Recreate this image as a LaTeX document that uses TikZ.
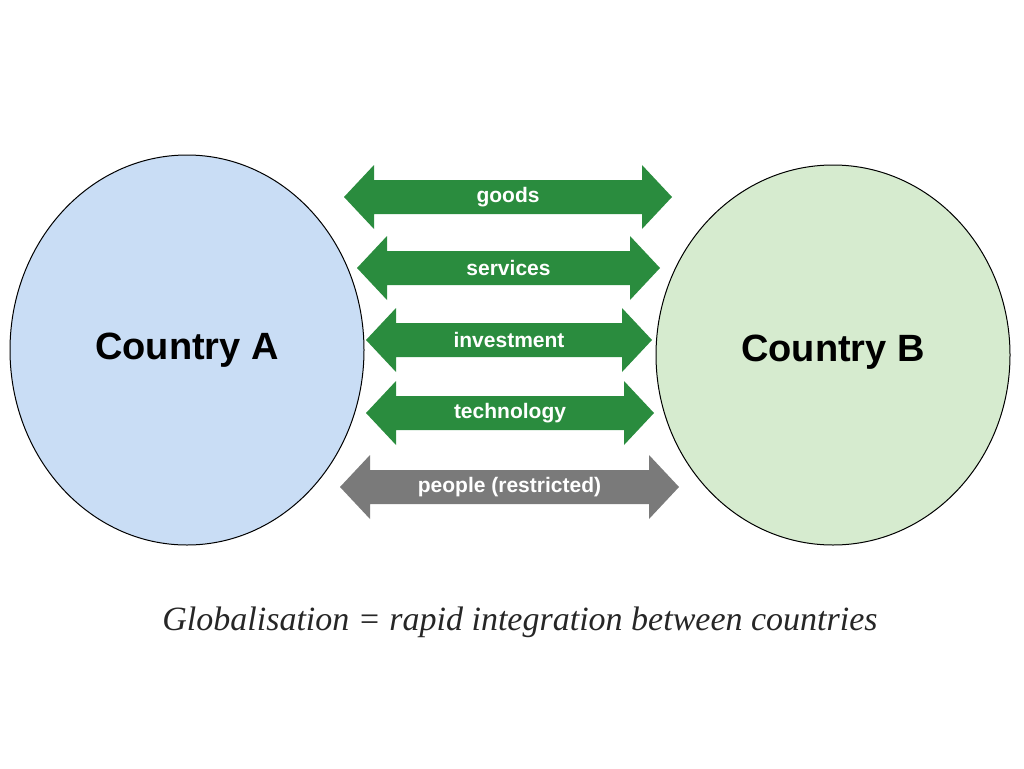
\documentclass[tikz,border=0pt]{standalone}
\usepackage{fontspec}
\setsansfont{Liberation Sans}
\setmainfont{Liberation Serif}
\begin{document}
\begin{tikzpicture}[x=1pt,y=-1pt,
  ctry/.style={draw=black,line width=1pt},
  lbl/.style={font=\sffamily\bfseries\fontsize{21}{23}\selectfont,text=white},
  clbl/.style={font=\sffamily\bfseries\fontsize{38}{42}\selectfont}]
\useasboundingbox (0,0) rectangle (1024,768);
\definecolor{ablue}{HTML}{C9DDF5}
\definecolor{bgreen}{HTML}{D6EBCF}
\definecolor{agreen}{HTML}{2A8C3E}
\definecolor{agray}{HTML}{7A7A7A}
\newcommand\dblarr[6]{% name, x1, x2, y, colour, text
  \fill[#5] (#2,#4) -- (#2+30,#4-32) -- (#2+30,#4-17) -- (#3-30,#4-17) -- (#3-30,#4-32)
    -- (#3,#4) -- (#3-30,#4+32) -- (#3-30,#4+17) -- (#2+30,#4+17) -- (#2+30,#4+32) -- cycle;
  \node[lbl] (#1) at ({(#2+#3)/2},#4) {#6};}
\filldraw[ctry,fill=ablue] (187,350) ellipse [x radius=177, y radius=195];
\node[clbl] (A) at (187,350) {Country A};
\filldraw[ctry,fill=bgreen] (833,355) ellipse [x radius=177, y radius=190];
\node[clbl] (B) at (833,352) {Country B};
\dblarr{g}{344}{672}{197}{agreen}{goods}
\dblarr{s}{357}{660}{268}{agreen}{services}
\dblarr{i}{366}{652}{340}{agreen}{investment}
\dblarr{t}{366}{654}{413}{agreen}{technology}
\dblarr{p}{340}{679}{487}{agray}{people (restricted)}
\node[font=\itshape\fontsize{34}{37}\selectfont,text=black!85] (cap) at (520,622) {Globalisation = rapid integration between countries};
\end{tikzpicture}
\end{document}
